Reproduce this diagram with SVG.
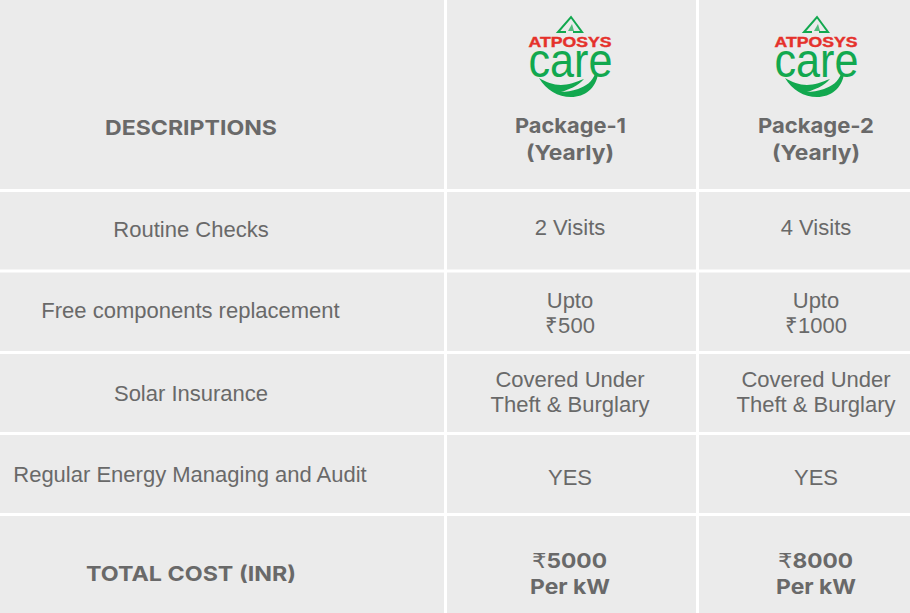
<svg xmlns="http://www.w3.org/2000/svg" width="910" height="613" viewBox="0 0 910 613">
<style>
.r{font-family:"Liberation Sans",Arial,sans-serif;font-size:22px;fill:#696969;text-anchor:middle}
.b{font-family:Inter,"Open Sans",sans-serif;font-size:20.500px;font-weight:700;fill:#696969;text-anchor:middle}
.n{font-family:"DejaVu Sans",sans-serif;font-weight:400}
.at{font-family:"Liberation Sans",Arial,sans-serif;font-size:14px;font-weight:700;fill:#e5312b;stroke:#e5312b;stroke-width:.4;text-anchor:middle}
.ca{font-family:"Liberation Sans",Arial,sans-serif;font-size:48px;fill:#12a84f;text-anchor:middle}
.g{fill:none;stroke:#12a84f}
.hand{fill:#12a84f}
</style>
<defs>
<g id="logo">
<path class="g" stroke-width="2" d="M-4 0 H-12 L1 -15 L12 0 H3"/>
<path d="M-2 -1 L2 -8 L4 -1 Z" fill="#12a84f" opacity=".7"/>
<text class="at" x="0" y="15" textLength="83" lengthAdjust="spacingAndGlyphs">ATPOSYS</text>
<text class="ca" x="0.500" y="45" textLength="84" lengthAdjust="spacingAndGlyphs">care</text>
<path class="hand" d="M-31 46 C-24 58 -12 65 1 65 C15 65 26 56 28 42 L25 42 C22 50 16 54 8 57 C2 59 -4 60 -9 60 C-2 58 8 54 14 47 C6 50 -2 53 -9 53 C-17 53 -24 50 -31 46 Z"/>
</g>
</defs>
<rect id="background" width="910" height="613" fill="#ebebeb"/>
<g id="grid" fill="#ffffff">
<rect x="444" y="0" width="3" height="613"/>
<rect x="696" y="0" width="3" height="613"/>
<rect x="0" y="189" width="910" height="3"/>
<rect x="0" y="269.500" width="910" height="3"/>
<rect x="0" y="351" width="910" height="3"/>
<rect x="0" y="432" width="910" height="3"/>
<rect x="0" y="513" width="910" height="3"/>
</g>
<g id="header-desc"><text class="b" x="191" y="134.800" textLength="172" lengthAdjust="spacingAndGlyphs">DESCRIPTIONS</text></g>
<g id="header-p1">
<use href="#logo" x="570" y="32"/>
<text class="b" x="570.500" y="132.500" textLength="111" lengthAdjust="spacingAndGlyphs">Package-1</text>
<text class="b" x="570" y="159.500" textLength="88" lengthAdjust="spacingAndGlyphs">(Yearly)</text>
</g>
<g id="header-p2">
<use href="#logo" x="816" y="32"/>
<text class="b" x="816" y="132.500" textLength="116" lengthAdjust="spacingAndGlyphs">Package-2</text>
<text class="b" x="816" y="159.500" textLength="88" lengthAdjust="spacingAndGlyphs">(Yearly)</text>
</g>
<g id="row-routine">
<text class="r" x="191" y="237">Routine Checks</text>
<text class="r" x="570" y="235">2 Visits</text>
<text class="r" x="816" y="235">4 Visits</text>
</g>
<g id="row-components">
<text class="r" x="190.500" y="318">Free components replacement</text>
<text class="r" x="570" y="308">Upto</text>
<text class="r" x="570" y="333" textLength="50" lengthAdjust="spacing">₹500</text>
<text class="r" x="816" y="308">Upto</text>
<text class="r" x="816" y="333" textLength="62" lengthAdjust="spacing">₹1000</text>
</g>
<g id="row-insurance">
<text class="r" x="191" y="401">Solar Insurance</text>
<text class="r" x="570" y="387">Covered Under</text>
<text class="r" x="570" y="412">Theft &amp; Burglary</text>
<text class="r" x="816" y="387">Covered Under</text>
<text class="r" x="816" y="412">Theft &amp; Burglary</text>
</g>
<g id="row-audit">
<text class="r" x="190" y="482">Regular Energy Managing and Audit</text>
<text class="r" x="570" y="485">YES</text>
<text class="r" x="816" y="485">YES</text>
</g>
<g id="row-total">
<text class="b" x="191" y="580.500" textLength="210" lengthAdjust="spacingAndGlyphs">TOTAL COST (INR)</text>
<text class="b" x="569.500" y="567.500" textLength="75" lengthAdjust="spacingAndGlyphs"><tspan class="n">₹</tspan>5000</text>
<text class="b" x="570" y="593.500" textLength="80" lengthAdjust="spacingAndGlyphs">Per kW</text>
<text class="b" x="815.500" y="567.500" textLength="75" lengthAdjust="spacingAndGlyphs"><tspan class="n">₹</tspan>8000</text>
<text class="b" x="816" y="593.500" textLength="80" lengthAdjust="spacingAndGlyphs">Per kW</text>
</g>
</svg>
